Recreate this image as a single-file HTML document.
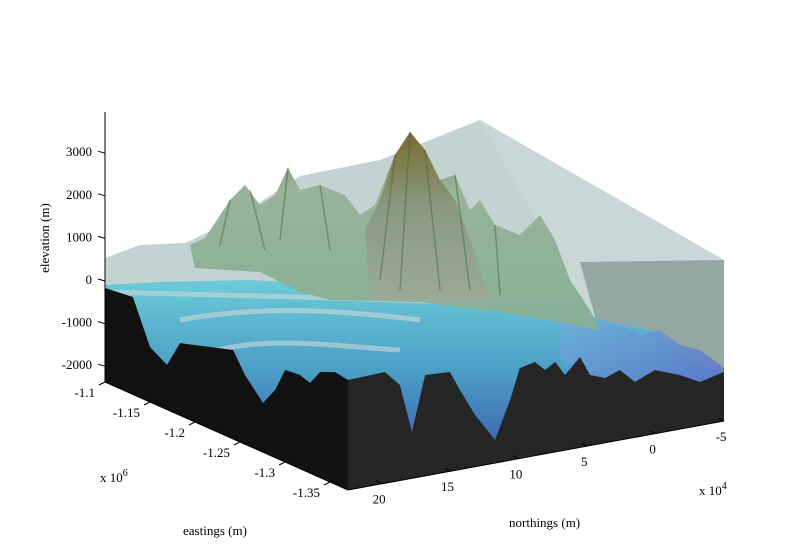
<!DOCTYPE html>
<html><head><meta charset="utf-8"><style>
html,body{margin:0;padding:0;background:#fff;}
svg{display:block;font-family:"Liberation Serif",serif;}
text{font-size:13px;fill:#000;}
</style></head><body>
<svg width="800" height="550" viewBox="0 0 800 550">
<defs>
<linearGradient id="water" x1="0" y1="0" x2="0" y2="1"><stop offset="0" stop-color="#6ccbd8"/><stop offset="0.45" stop-color="#4a9cc4"/><stop offset="1" stop-color="#3a46a8"/></linearGradient>
<linearGradient id="mtn" x1="0" y1="0" x2="0" y2="1"><stop offset="0" stop-color="#7f8a6a"/><stop offset="0.3" stop-color="#98b49a"/><stop offset="1" stop-color="#86b096"/></linearGradient>
<linearGradient id="peak" x1="0" y1="0" x2="0" y2="1"><stop offset="0" stop-color="#7a6a30"/><stop offset="0.45" stop-color="#8a9a80"/><stop offset="1" stop-color="#9aaa98"/></linearGradient>
<linearGradient id="shelf" x1="0" y1="0" x2="1" y2="1"><stop offset="0" stop-color="#6fb8d8"/><stop offset="1" stop-color="#5a6cc8"/></linearGradient>
</defs>
<g id="scene"></g>
<g id="axes"></g>
</svg>
<script>
const zTicks=[3000,2000,1000,0,-1000,-2000];
const eTicks=["-1.1","-1.15","-1.2","-1.25","-1.3","-1.35"];
const nTicks=["20","15","10","5","0","-5"];
const westProfile=[[0,-188],[0.115,-108],[0.185,-1103],[0.255,-1347],[0.309,-697],[0.527,-308],[0.576,-770],[0.65,-1239],[0.70,-808],[0.741,-235],[0.802,-195],[0.844,-279],[0.885,85],[0.947,239],[1,188]];
const southProfile=[[0,188],[0.098,216],[0.138,-153],[0.17,-1307],[0.205,-26],[0.271,-63],[0.298,-531],[0.338,-1181],[0.391,-1854],[0.431,-979],[0.457,-272],[0.497,-195],[0.524,-427],[0.551,-282],[0.577,-629],[0.617,-272],[0.644,-737],[0.684,-873],[0.723,-749],[0.763,-1096],[0.816,-899],[0.883,-1127],[0.936,-1376],[1,-1244]];
const ns="http://www.w3.org/2000/svg";
const scene=document.getElementById('scene'),axes=document.getElementById('axes');
function el(t,a,p){const e=document.createElementNS(ns,t);for(const k in a)e.setAttribute(k,a[k]);(p||scene).appendChild(e);return e;}
const zBase=280, zScale=0.0426;
function zy(v){return zBase - v*zScale;}
const bottomW=382, bottomS=490, bottomE=421;
function westPt(f,v){const x=105+f*(348-105);const drop=f*(bottomS-bottomW);return [x,zy(v)+drop];}
function southPt(f,v){const x=348+f*(724-348);const drop=(bottomS-bottomW)+f*(bottomE-bottomS);return [x,zy(v)+drop];}
function pts(a){return a.map(p=>p.map(n=>n.toFixed(1)).join(',')).join(' ');}
let p=el('polygon',{points:"105,258 140,245 185,243 230,222 300,176 380,160 480,120 724,260 724,372 600,335 480,300 105,292",fill:"#c2d3d2"});

p=el('polygon',{points:"480,120 724,260 724,372 595,335 560,262",fill:"#c9d8d6"});

p=el('polygon',{points:"580,262 724,260 724,372 600,335",fill:"#93a7a3"});

p=el('polygon',{points:"105,285 160,282 250,280 350,285 450,300 540,290 600,320 650,330 700,365 724,372 724,421 348,490 105,382",fill:"url(#water)"});

p=el('polygon',{points:"560,300 590,320 620,325 640,335 660,330 680,345 700,350 724,368 724,400 600,380 560,360",fill:"url(#shelf)",opacity:"0.85"});

p=el('path',{d:"M105,292 C200,295 300,296 450,302 M180,320 C260,305 340,310 420,320 M200,355 C260,335 320,345 400,350",stroke:"#c9d8d8",'stroke-width':"5",fill:"none",opacity:"0.6"});

p=el('polygon',{points:"190,245 205,238 230,200 245,185 260,205 275,195 288,168 300,190 320,185 345,195 360,215 375,205 395,155 410,132 425,150 440,180 455,175 470,210 480,200 495,225 520,235 540,215 555,240 570,280 590,310 600,330 560,322 500,312 420,302 330,300 300,292 260,272 195,268",fill:"url(#mtn)"});

p=el('polygon',{points:"365,230 380,200 395,155 410,132 425,150 440,180 455,200 470,240 480,270 490,300 420,302 370,300",fill:"url(#peak)"});

p=el('path',{d:"M230,200 L220,245 M288,168 L280,240 M320,185 L330,250 M395,155 L380,280 M410,132 L400,290 M425,150 L440,290 M455,175 L470,290 M495,225 L500,295 M250,190 L265,250",stroke:"#3f6a46",'stroke-width':"1.5",opacity:"0.5",fill:"none"});

const wf=westProfile.map(q=>westPt(q[0],q[1]));
p=el('polygon',{points:pts(wf)+" 348,490 105,382",fill:"#111111"});

const sf=southProfile.map(q=>southPt(q[0],q[1]));
p=el('polygon',{points:pts(sf)+" 724,421 348,490",fill:"#252525"});

let l=el('line',{x1:105,y1:112,x2:105,y2:382,stroke:"#000"},axes);

l=el('line',{x1:105,y1:382,x2:348,y2:490,stroke:"#000"},axes);

l=el('line',{x1:348,y1:490,x2:724,y2:421,stroke:"#000"},axes);

zTicks.forEach(v=>{const y=zy(v);
 let t=el('line',{x1:98,y1:y-1,x2:105,y2:y+1,stroke:"#000"},axes);
 
 t=el('text',{x:92,y:y+4,'text-anchor':'end'},axes);t.textContent=v;
 });
eTicks.forEach((s,i)=>{const f=i/(eTicks.length-0.6);const x=105+f*243,y=382+f*108;
 let t=el('line',{x1:x,y1:y,x2:x-6,y2:y+3,stroke:"#000"},axes);
 
 t=el('text',{x:x-10,y:y+15,'text-anchor':'end'},axes);t.textContent=s;
 });
nTicks.forEach((s,i)=>{const f=(i+0.5)/(nTicks.length-0.5);const x=348+f*376,y=490-f*69;
 let t=el('line',{x1:x,y1:y,x2:x-6,y2:y-3,stroke:"#000"},axes);
 
 t=el('text',{x:x-3,y:y+20,'text-anchor':'middle'},axes);t.textContent=s;
 });
</script>
<div style="position:absolute;left:0;top:0;width:800px;height:550px;pointer-events:none;font-family:'Liberation Serif',serif;font-size:13px;">
<div style="position:absolute;left:0;top:230px;width:90px;text-align:center;transform:rotate(-90deg);transform-origin:45px 8px;">elevation (m)</div>
<div style="position:absolute;left:100px;top:470px;">x 10<sup style="font-size:10px;position:relative;top:-6px;vertical-align:baseline;">6</sup></div>
<div style="position:absolute;left:699px;top:483px;">x 10<sup style="font-size:10px;position:relative;top:-6px;vertical-align:baseline;">4</sup></div>
<div style="position:absolute;left:183px;top:523px;">eastings (m)</div>
<div style="position:absolute;left:509px;top:515px;">northings (m)</div>
</div>
</body></html>
